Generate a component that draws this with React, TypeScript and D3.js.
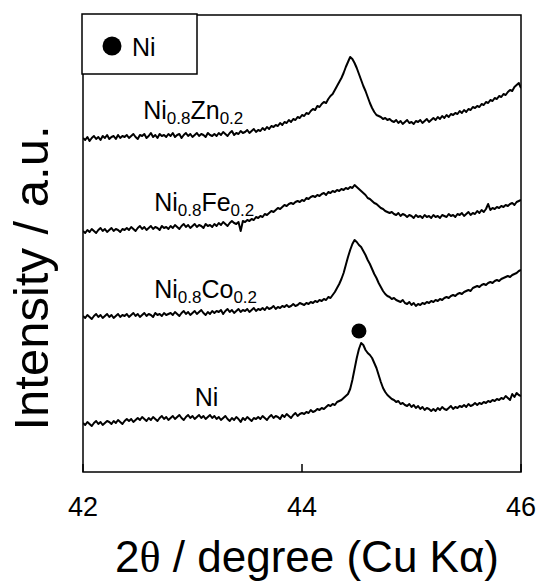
import React from "react";
import * as d3 from "d3";

// 2θ grid (degrees), step 0.02
const twoTheta: number[] = Array.from({ length: 201 }, (_, i) => +(42 + i * 0.02).toFixed(2));

// Offset intensities (a.u.)
const niZn: number[] = [
  334, 332, 335, 331, 334, 336, 333, 335, 332, 336, 334, 337, 333, 335, 336, 333, 337, 334, 336, 335,
  337, 334, 336, 338, 335, 333, 337, 336, 338, 334, 336, 339, 335, 337, 334, 338, 336, 337, 335, 338,
  336, 339, 335, 337, 338, 334, 337, 339, 336, 338, 335, 337, 339, 336, 338, 337, 335, 339, 337, 336,
  338, 336, 339, 337, 340, 338, 336, 339, 341, 337, 339, 338, 341, 339, 340, 342, 339, 341, 343, 340,
  342, 341, 344, 342, 345, 343, 346, 345, 347, 346, 349, 347, 350, 349, 352, 350, 353, 352, 355, 354,
  357, 356, 359, 358, 361, 363, 362, 366, 365, 368, 370, 369, 373, 376, 378, 382, 386, 390, 394, 399,
  405, 410, 415, 413, 409, 404, 398, 392, 386, 381, 375, 369, 364, 360, 357, 356, 355, 353, 354, 352,
  353, 351, 350, 352, 349, 351, 348, 350, 352, 349, 350, 348, 351, 350, 352, 349, 351, 353, 350, 352,
  354, 352, 355, 353, 356, 354, 357, 355, 358, 357, 359, 358, 361, 359, 362, 360, 363, 362, 365, 364,
  366, 365, 368, 367, 370, 369, 372, 371, 374, 373, 376, 375, 378, 377, 380, 382, 381, 385, 387, 389,
  384,
];
const niFe: number[] = [
  241, 239, 242, 240, 243, 241, 239, 242, 244, 241, 243, 240, 242, 244, 241, 243, 242, 240, 243, 242,
  244, 242, 245, 243, 241, 244, 246, 243, 245, 242, 244, 246, 243, 245, 244, 242, 246, 244, 245, 243,
  246, 244, 247, 245, 243, 246, 248, 245, 247, 244, 246, 248, 245, 247, 246, 244, 248, 246, 247, 245,
  248, 246, 249, 247, 250, 248, 246, 249, 251, 249, 248, 250, 241, 251, 250, 252, 251, 253, 252, 255,
  254, 256, 255, 258, 257, 259, 261, 260, 262, 264, 263, 265, 267, 266, 268, 269, 268, 270, 271, 270,
  272, 271, 274, 273, 275, 276, 275, 277, 276, 278, 279, 277, 280, 279, 281, 280, 282, 281, 283, 282,
  284, 283, 285, 284, 287, 285, 283, 281, 279, 277, 274, 273, 271, 269, 268, 266, 264, 263, 261, 260,
  259, 260, 258, 257, 259, 256, 258, 257, 255, 257, 256, 254, 257, 255, 256, 254, 257, 255, 256, 254,
  257, 255, 256, 254, 257, 256, 255, 258, 256, 257, 255, 258, 257, 259, 256, 258, 260, 257, 259, 258,
  261, 259, 262, 260, 263, 268, 262, 264, 263, 265, 264, 266, 265, 267, 266, 268, 269, 267, 270, 271,
  272,
];
const niCo: number[] = [
  156, 154, 157, 155, 153, 156, 158, 155, 157, 154, 156, 158, 155, 157, 154, 156, 158, 155, 157, 156,
  158, 155, 157, 159, 156, 158, 155, 157, 159, 156, 158, 157, 155, 159, 157, 158, 156, 159, 157, 158,
  159, 157, 160, 158, 156, 159, 161, 158, 160, 157, 159, 161, 158, 160, 162, 159, 157, 160, 158, 161,
  159, 161, 160, 162, 158, 161, 163, 160, 162, 159, 161, 163, 160, 162, 161, 163, 160, 162, 164, 161,
  163, 162, 164, 162, 165, 163, 164, 166, 163, 165, 164, 166, 165, 167, 165, 166, 168, 166, 167, 169,
  168, 167, 169, 168, 170, 169, 171, 170, 172, 171, 173, 172, 175, 174, 177, 180, 184, 188, 193, 199,
  207, 215, 222, 228, 232, 230, 227, 225, 221, 217, 212, 208, 203, 198, 194, 189, 185, 181, 178, 176,
  175, 173, 174, 172, 171, 170, 172, 169, 168, 170, 167, 169, 166, 168, 167, 169, 168, 170, 169, 171,
  170, 172, 171, 173, 172, 174, 175, 174, 176, 177, 176, 178, 179, 178, 180, 181, 182, 181, 184, 185,
  186, 185, 187, 188, 187, 189, 190, 189, 191, 192, 191, 193, 194, 195, 196, 195, 197, 198, 199, 201,
  202,
];
const ni: number[] = [
  49, 47, 50, 48, 46, 49, 51, 48, 50, 47, 49, 51, 50, 48, 51, 49, 52, 50, 48, 51,
  53, 51, 53, 50, 52, 54, 52, 55, 53, 51, 54, 52, 55, 53, 51, 54, 56, 53, 55, 52,
  54, 56, 53, 55, 57, 54, 52, 55, 57, 54, 56, 53, 55, 57, 54, 56, 53, 55, 57, 54,
  56, 53, 55, 52, 54, 56, 53, 51, 54, 52, 55, 53, 50, 54, 52, 55, 53, 51, 54, 53,
  55, 53, 56, 54, 52, 55, 57, 54, 56, 55, 53, 57, 55, 58, 56, 54, 57, 59, 56, 58,
  59, 58, 60, 59, 62, 60, 61, 63, 62, 64, 63, 65, 67, 66, 68, 67, 70, 71, 72, 74,
  76, 78, 83, 92, 103, 114, 123, 129, 127, 122, 119, 117, 114, 109, 104, 97, 90, 84, 80, 77,
  75, 73, 72, 70, 71, 68, 69, 67, 66, 68, 65, 67, 64, 66, 63, 65, 62, 64, 63, 61,
  63, 61, 64, 62, 65, 63, 62, 64, 66, 63, 65, 64, 66, 65, 67, 65, 68, 66, 67, 69,
  67, 69, 68, 70, 69, 71, 70, 72, 71, 73, 72, 74, 73, 76, 74, 72, 78, 75, 79, 77,
  76,
];

const seriesValues: number[][] = [niZn, niFe, niCo, ni];
// Label: [main1, sub1, main2, sub2]
const seriesLabels: string[][] = [
  ["Ni", "0.8", "Zn", "0.2"],
  ["Ni", "0.8", "Fe", "0.2"],
  ["Ni", "0.8", "Co", "0.2"],
  ["Ni", "", "", ""],
];
// label anchor in data coordinates [2θ, intensity]
const labelAnchors: number[][] = [
  [42.55, 353],
  [42.65, 261],
  [42.65, 174],
  [43.02, 66],
];
const xTicks: number[] = [42, 44, 46];
const niPeakMarker: number[] = [44.52, 141];
const legendLabel = "Ni";

const W = 539;
const H = 582;
const M = { left: 83, right: 18, top: 15, bottom: 110 };
const FONT = "Arial, 'Liberation Sans', Helvetica, sans-serif";

export default function App() {
  const x = d3.scaleLinear().domain([42, 46]).range([M.left, W - M.right]);
  const y = d3.scaleLinear().domain([0, 457]).range([H - M.bottom, M.top]);
  const line = d3
    .line<number>()
    .x((_, i) => x(twoTheta[i]))
    .y((d) => y(d));

  const plotBottom = H - M.bottom;

  return (
    <svg
      width={W}
      height={H}
      style={{ position: "absolute", left: 0, top: 0, background: "#fff" }}
      fontFamily={FONT}
    >
      <defs>
        <clipPath id="plotClip">
          <rect x={M.left} y={M.top} width={W - M.left - M.right} height={plotBottom - M.top} />
        </clipPath>
      </defs>
      {/* curves */}
      <g clipPath="url(#plotClip)">
        {seriesValues.map((vals, k) => (
          <path key={k} d={line(vals) || ""} fill="none" stroke="#000" strokeWidth={2} strokeLinejoin="round" />
        ))}
      </g>
      {/* frame */}
      <rect
        x={M.left}
        y={M.top}
        width={W - M.left - M.right}
        height={plotBottom - M.top}
        fill="none"
        stroke="#000"
        strokeWidth={1.5}
      />
      {/* ticks */}
      {xTicks.map((t) => (
        <g key={t}>
          <line x1={x(t)} x2={x(t)} y1={plotBottom} y2={plotBottom - 8} stroke="#000" strokeWidth={1.5} />
          <text x={x(t)} y={516} textAnchor="middle" fontSize={27}>
            {t}
          </text>
        </g>
      ))}
      {/* series labels */}
      {seriesLabels.map((p, k) => (
        <text key={k} x={x(labelAnchors[k][0])} y={y(labelAnchors[k][1])} fontSize={25}>
          <tspan>{p[0]}</tspan>
          {p[1] && (
            <tspan fontSize={17} dy={5}>
              {p[1]}
            </tspan>
          )}
          {p[2] && <tspan dy={-5}>{p[2]}</tspan>}
          {p[3] && (
            <tspan fontSize={17} dy={5}>
              {p[3]}
            </tspan>
          )}
        </text>
      ))}
      {/* peak marker */}
      <circle cx={x(niPeakMarker[0])} cy={y(niPeakMarker[1])} r={7.5} fill="#000" />
      {/* legend */}
      <rect x={82} y={14} width={115} height={60} fill="#fff" stroke="#000" strokeWidth={1.5} />
      <circle cx={112} cy={46} r={9.5} fill="#000" />
      <text x={132} y={56} fontSize={25}>
        {legendLabel}
      </text>
      {/* axis titles */}
      <text x={307} y={572} textAnchor="middle" fontSize={44}>
        2<tspan fontFamily="'Times New Roman', 'Liberation Serif', serif">θ</tspan> / degree (Cu Kα)
      </text>
      <text transform="translate(48,278) rotate(-90)" textAnchor="middle" fontSize={49}>
        Intensity / a.u.
      </text>
    </svg>
  );
}
